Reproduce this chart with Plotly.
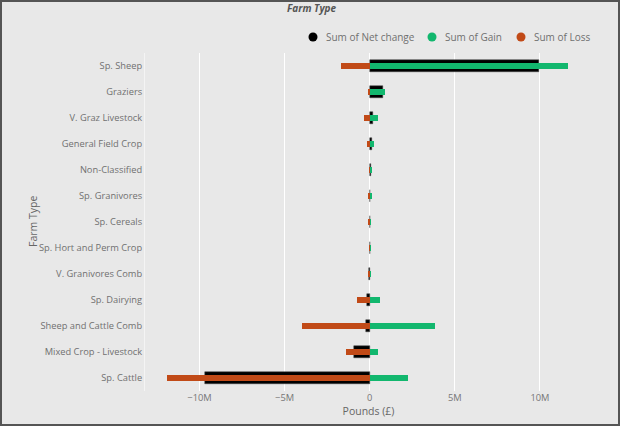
import plotly.graph_objects as go

categories = ["Sp. Sheep", "Graziers", "V. Graz Livestock", "General Field Crop",
              "Non-Classified", "Sp. Granivores", "Sp. Cereals", "Sp. Hort and Perm Crop",
              "V. Granivores Comb", "Sp. Dairying", "Sheep and Cattle Comb",
              "Mixed Crop - Livestock", "Sp. Cattle"]
net_change = [9.96e6, 0.78e6, 0.19e6, 0.13e6, 0.10e6, 0.04e6, 0.04e6, 0.02e6,
              -0.05e6, -0.14e6, -0.20e6, -0.95e6, -9.70e6]
gain = [11.65e6, 0.87e6, 0.51e6, 0.27e6, 0.12e6, 0.12e6, 0.10e6, 0.05e6,
        0.05e6, 0.63e6, 3.83e6, 0.50e6, 2.24e6]
loss = [-1.66e6, -0.08e6, -0.32e6, -0.14e6, -0.02e6, -0.08e6, -0.06e6, -0.03e6,
        -0.10e6, -0.75e6, -4.00e6, -1.40e6, -11.90e6]
tick_vals = [-10e6, -5e6, 0, 5e6, 10e6]
tick_text = ["\u221210M", "\u22125M", "0", "5M", "10M"]
series_names = ["Sum of Net change", "Sum of Gain", "Sum of Loss"]

BLACK = "#000000"
GREEN = "#12b76e"
ORANGE = "#c14a17"
COLORS = [BLACK, GREEN, ORANGE]
FONT = "Open Sans"

# plot area in pixels
L, R, T, B = 145, 28, 53, 35
PW, PH = 620 - L - R, 426 - T - B

def px(x):
    return (x - L) / PW

def py(y):
    return (426 - B - y) / PH

fig = go.Figure()
fig.add_trace(go.Bar(y=categories, x=net_change, orientation="h", width=0.46,
                     marker=dict(color=BLACK, line=dict(color="#444", width=0.5)),
                     name=series_names[0], showlegend=False))
fig.add_trace(go.Bar(y=categories, x=gain, orientation="h", width=0.21,
                     marker=dict(color=GREEN, line=dict(width=0)),
                     name=series_names[1], showlegend=False))
fig.add_trace(go.Bar(y=categories, x=loss, orientation="h", width=0.21,
                     marker=dict(color=ORANGE, line=dict(width=0)),
                     name=series_names[2], showlegend=False))

annotations = [
    dict(text="Farm Type", xref="paper", yref="paper", x=px(33), y=0.5,
         xanchor="center", yanchor="middle", textangle=-90, showarrow=False,
         font=dict(size=10.5, color="#666666")),
    dict(text="<b><i>Farm Type</i></b>", xref="paper", yref="paper", x=px(312), y=py(8),
         xanchor="center", yanchor="middle", showarrow=False,
         font=dict(size=10, color="#555555")),
]
shapes = [dict(type="rect", xref="paper", yref="paper", x0=px(1), x1=px(619),
               y0=py(425), y1=py(1), line=dict(color="#555555", width=2))]

legend_x = [313, 432, 521]
for nm, col, lx in zip(series_names, COLORS, legend_x):
    shapes.append(dict(type="circle", xref="paper", yref="paper",
                       x0=px(lx - 4.5), x1=px(lx + 4.5), y0=py(37 + 4.5), y1=py(37 - 4.5),
                       fillcolor=col, line=dict(width=0)))
    annotations.append(dict(text=nm, xref="paper", yref="paper", x=px(lx + 11), y=py(37),
                            xanchor="left", yanchor="middle", showarrow=False,
                            font=dict(size=10, color="#707070")))

fig.update_layout(
    width=620, height=426,
    margin=dict(l=L, r=R, t=T, b=B),
    paper_bgcolor="#e8e8e8", plot_bgcolor="#e8e8e8",
    barmode="overlay", bargap=0, showlegend=False,
    font=dict(family=FONT, size=9.3, color="#707070"),
    xaxis=dict(range=[-13.2e6, 13.06e6], tickvals=tick_vals, ticktext=tick_text,
               showgrid=True, gridcolor="#ffffff", gridwidth=1,
               zeroline=True, zerolinecolor="#ffffff", zerolinewidth=1,
               title=dict(text="Pounds (\u00a3)", font=dict(size=10.5, color="#666666"), standoff=3),
               tickfont=dict(size=9.3, color="#777777"), ticks=""),
    yaxis=dict(categoryorder="array", categoryarray=categories, autorange="reversed",
               showgrid=False, showline=True, linecolor="#f4f4f4", linewidth=1,
               tickfont=dict(size=9.3, color="#707070"), ticks=""),
    annotations=annotations,
    shapes=shapes,
)

fig.write_html("out.html")
